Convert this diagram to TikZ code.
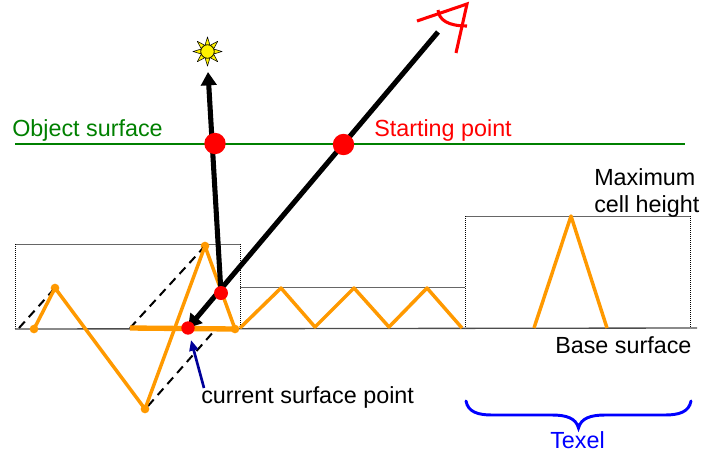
\documentclass[tikz,border=0pt]{standalone}
\usepackage{fontspec}
\setmainfont{Liberation Sans}
\usetikzlibrary{arrows.meta}
\definecolor{orng}{RGB}{255,153,0}
\definecolor{grn}{RGB}{0,128,0}
\definecolor{nvy}{RGB}{0,0,153}
\definecolor{blu}{RGB}{0,0,255}
\tikzset{
 x=0.75pt,y=-0.75pt,
 lbl/.style={inner sep=0pt,anchor=base west,font=\fontsize{17.5}{20}\selectfont},
 gridline/.style={draw=black!60,line width=0.75pt},
 dotline/.style={draw=black,line width=0.5pt,densely dotted},
 surf/.style={draw=orng,line width=2.6pt,line join=round},
 orngdot/.style={circle,fill=orng,inner sep=0pt,minimum size=6.5pt},
 reddot/.style={circle,fill=red,inner sep=0pt},
 dash line/.style={draw=black,line width=1.5pt,dash pattern=on 6.5pt off 4.5pt},
 ray/.style={draw=black,line width=3.8pt,-{Triangle[length=10pt,width=11.5pt]}},
}
\begin{document}
\begin{tikzpicture}
\useasboundingbox (0,0) rectangle (701,455);
% cells
\coordinate (a1) at (15,244); \coordinate (a2) at (240,244); \coordinate (a3) at (240,329); \coordinate (a4) at (15,329);
\coordinate (b1) at (465,216); \coordinate (b2) at (690,216); \coordinate (b3) at (690,328); \coordinate (b4) at (465,328);
\coordinate (bs) at (697,328);
\coordinate (m1) at (240,287); \coordinate (m2) at (465,287);
\draw[gridline] (a1) -- (a2);
\draw[gridline] (m1) -- (m2);
\draw[gridline] (b1) -- (b2);
\draw[dotline] (a1) -- (a4) (a2) -- (a3) (b1) -- (b4) (b2) -- (b3);
\draw[draw=black!70,line width=1pt] (a4) -- (bs);
% dashed
\coordinate (d1) at (19,328); \coordinate (d2) at (130,328); \coordinate (d3) at (148,406); \coordinate (d4) at (215,330);
\node[orngdot] (p1) at (34,329) {};
\node[orngdot] (p2) at (55,288) {};
\node[orngdot] (p3) at (145,409) {};
\node[orngdot] (p4) at (205,246) {};
\node[orngdot] (p5) at (235,329) {};
\draw[dash line] (d1) -- (p2.center);
\draw[dash line] (d2) -- (p4.center);
\draw[dash line] (d3) -- (d4);
% surface
\draw[surf] (p1.center) -- (p2.center) -- (p3.center) -- (p4.center) -- (p5.center);
\draw[surf,line width=4pt] (d2) -- (p5.center);
\draw[surf] (240,328) -- (281,288) -- (315,327) -- (354,288) -- (389,327) -- (427,288) -- (462,328);
\draw[surf] (534,328) -- (571,216) -- (607,328);
% object surface
\coordinate (o1) at (15,144); \coordinate (o2) at (685,144);
\draw[draw=grn,line width=1.5pt] (o1) -- (o2);
% rays
\coordinate (eye) at (438,32);
\coordinate (sunb) at (208,72);
\coordinate (hit) at (188,328);
\coordinate (bounce) at (221,293);
\draw[ray] (bounce) -- (sunb);
\draw[ray] (eye) -- (hit);
\node[reddot,minimum size=16pt] (s1) at (215,143.5) {};
\node[reddot,minimum size=16pt] (s2) at (343.5,144.5) {};
\node[reddot,minimum size=10.5pt] (r1) at (bounce) {};
\node[reddot,minimum size=10pt] (r2) at (hit) {};
% sun
\begin{scope}[shift={(207.5,51.5)}]
\foreach \a in {0,45,...,315}{
 \draw[black,fill=yellow,line width=0.4pt,line join=round]
   (\a-20:7) -- (\a:14.5) -- (\a+20:7) -- cycle;
}
\end{scope}
\node[draw=black,fill=yellow,circle,line width=0.4pt,inner sep=0pt,minimum size=10pt] (sun) at (207.5,51.5) {};
% eye
\draw[red,line width=2.3pt,line join=miter] (417,21) -- (467,4) -- (456,53);
\draw[red,line width=2.3pt] (438,10) .. controls (439,20) and (448,26) .. (467,26);
% labels
\node[lbl,text=grn] (tobj) at (12,136.5) {Object surface};
\node[lbl,text=red] (tstart) at (374,136.5) {Starting point};
\node[lbl] (tmax) at (594,185) {Maximum};
\node[lbl] (tcell) at (594,212) {cell height};
\node[lbl] (tbase) at (555,353) {Base surface};
\node[lbl] (tcur) at (201,403) {current surface point};
\node[lbl,text=blu] (ttex) at (550,448) {Texel};
% pointer
\coordinate (cp1) at (204,388); \coordinate (cp2) at (191,340);
\draw[draw=nvy,line width=2pt,-{Triangle[length=8pt,width=6.5pt]}] (cp1) -- (cp2);
% brace
\draw[draw=blu,line width=2.2pt,line cap=round]
 (466,401) .. controls (468,412) and (478,415) .. (492,415) -- (552,415)
 .. controls (566,415) and (576,418) .. (578.5,428)
 .. controls (581,418) and (591,415) .. (605,415) -- (665,415)
 .. controls (679,415) and (689,412) .. (691,401);
\end{tikzpicture}
\end{document}
